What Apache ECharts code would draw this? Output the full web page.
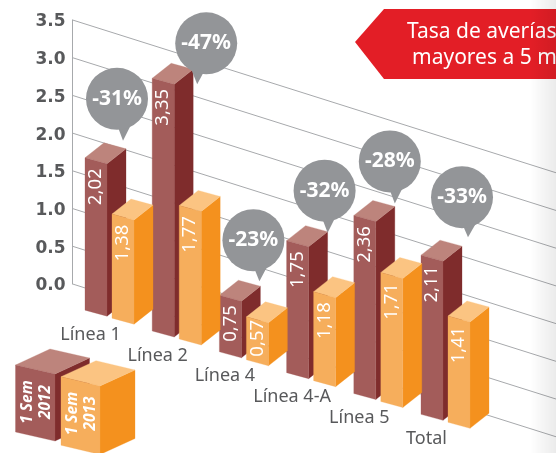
<!DOCTYPE html>
<html>
<head>
<meta charset="utf-8">
<style>
  html, body { margin: 0; padding: 0; background: #fff; }
  #main { width: 556px; height: 453px; }
</style>
<script src="https://cdn.jsdelivr.net/npm/echarts@6/dist/echarts.min.js"></script>
</head>
<body>
<div id="main"></div>
<script>
const categories = ["Línea 1", "Línea 2", "Línea 4", "Línea 4-A", "Línea 5", "Total"];
const sem2012 = [2.02, 3.35, 0.75, 1.75, 2.36, 2.11];
const sem2013 = [1.38, 1.77, 0.57, 1.18, 1.71, 1.41];
const changes = ["-31%", "-47%", "-23%", "-32%", "-28%", "-33%"];
const ticks = [0, 0.5, 1, 1.5, 2, 2.5, 3, 3.5];

// bubble centre and tail tip, relative to the top corner of the 2012 bar
const bubbleCentre = [[32, -59], [54, -35], [34, -55], [38, -50], [36, -54], [41, -58]];
const bubbleTip = [[38, -17], [45, 6], [40, -14], [41, -8], [41, -12], [47, -18]];

const GRID_LEFT = 72.6;
const GRID_SKEW = 0.316; // slope of the floor lines
const BAR_SKEW = 0.31;   // slope of the row of bars
const FLOOR_DROP = 22.3; // bars stand this far in front of the floor line
const FACE_W = 22;
const FACE_DROP = 6;
const DEPTH_X = 19;
const DEPTH_Y = -15;

const darkColors = { front: "#a35c5a", side: "#7f2c2c", top: "#bd847c" };
const orangeColors = { front: "#f6ae5c", side: "#f4911e", top: "#fbc482" };

function poly(points, fill) {
  return { type: "polygon", shape: { points: points }, style: { fill: fill, stroke: fill, lineWidth: 0.3 } };
}

// three faces of a box, x/y is the top left corner of the front face
function prism(x, y, w, h, drop, dx, dy, c) {
  return [
    poly([[x + w, y + drop], [x + w + dx, y + drop + dy], [x + w + dx, y + drop + dy + h], [x + w, y + drop + h]], c.side),
    poly([[x, y], [x + dx, y + dy], [x + w + dx, y + drop + dy], [x + w, y + drop]], c.top),
    poly([[x, y], [x + w, y + drop], [x + w, y + drop + h], [x, y + h]], c.front)
  ];
}

// top left corner of the 2012 bar front on the floor
function barBase(api, i) {
  const p = api.coord([i, 0]);
  const x = p[0] - 21.2;
  return [x, p[1] + BAR_SKEW * (x - GRID_LEFT) + FLOOR_DROP];
}

function renderBar(colors, dx, dy) {
  return function (params, api) {
    const i = api.value(0);
    const base = barBase(api, i);
    const h = api.coord([i, 0])[1] - api.coord([i, api.value(1)])[1];
    const x = base[0] + dx;
    const y = base[1] + dy - h;
    const children = prism(x, y, FACE_W, h, FACE_DROP, DEPTH_X, DEPTH_Y, colors);
    children.push({
      type: "text",
      x: x + 11,
      y: y + Math.min(29, h / 2),
      rotation: Math.PI / 2,
      style: {
        text: api.value(1).toFixed(2).replace(".", ","),
        fill: "#fff",
        font: "18.5px 'Noto Sans'",
        align: "center",
        verticalAlign: "middle"
      }
    });
    return { type: "group", children: children };
  };
}

function renderGridLine(params, api) {
  const p = api.coord([0, api.value(0)]);
  const w = api.getWidth();
  return {
    type: "line",
    shape: { x1: GRID_LEFT, y1: p[1], x2: w, y2: p[1] + GRID_SKEW * (w - GRID_LEFT) },
    style: { stroke: "#a7a9ac", lineWidth: 1 }
  };
}

function renderCategory(params, api) {
  const i = api.value(0);
  const base = barBase(api, i);
  return {
    type: "text",
    x: base[0] + 5.5,
    y: base[1] + 24.5,
    style: {
      text: categories[i],
      fill: "#58595b",
      font: "18px 'Noto Sans'",
      align: "center",
      verticalAlign: "middle"
    }
  };
}

function renderBubble(params, api) {
  const i = api.value(0);
  const base = barBase(api, i);
  const h = api.coord([i, 0])[1] - api.coord([i, api.value(1)])[1];
  const x = base[0];
  const y = base[1] - h;
  const cx = x + bubbleCentre[i][0];
  const cy = y + bubbleCentre[i][1];
  const tx = x + bubbleTip[i][0];
  const ty = y + bubbleTip[i][1];
  return {
    type: "group",
    children: [
      { type: "polygon", shape: { points: [[tx, ty], [tx - 6, cy + 26], [tx + 8, cy + 26]] }, style: { fill: "#939598" } },
      { type: "circle", shape: { cx: cx, cy: cy, r: 31 }, style: { fill: "#939598" } },
      {
        type: "text",
        x: cx,
        y: cy,
        style: {
          text: changes[i],
          fill: "#fff",
          font: "bold 21px 'Noto Sans'",
          align: "center",
          verticalAlign: "middle"
        }
      }
    ]
  };
}

function legendText(x, y, lines) {
  return {
    type: "text",
    x: x,
    y: y,
    rotation: Math.PI / 2,
    style: {
      text: lines,
      fill: "#fff",
      font: "italic bold 15.5px 'Noto Sans'",
      align: "center",
      verticalAlign: "middle",
      lineHeight: 17.5
    }
  };
}

const chart = echarts.init(document.getElementById("main"), null, { renderer: "canvas" });

chart.setOption({
  animation: false,
  grid: { left: GRID_LEFT, top: 20, width: 403.2, height: 264 },
  xAxis: { type: "category", data: categories, show: false },
  yAxis: {
    type: "value",
    min: 0,
    max: 3.5,
    interval: 0.5,
    splitLine: { show: false },
    axisTick: { show: false },
    axisLine: { show: true, lineStyle: { color: "#a7a9ac", width: 1 } },
    axisLabel: {
      margin: 7,
      verticalAlign: "top",
      lineHeight: 4,
      color: "#58595b",
      fontFamily: "DejaVu Sans",
      fontWeight: "bold",
      fontSize: 17,
      formatter: function (v) { return v.toFixed(1); }
    }
  },
  graphic: [
    {
      type: "polygon",
      shape: { points: [[355, 42], [384, 9], [556, 9], [556, 79], [384, 79]] },
      style: { fill: "#e31e26" },
      z: 1
    },
    {
      type: "text",
      x: 407,
      y: 32,
      z: 2,
      style: { text: "Tasa de averías", fill: "#fff", font: "21px 'Noto Sans'", verticalAlign: "middle" }
    },
    {
      type: "text",
      x: 412,
      y: 58,
      z: 2,
      style: { text: "mayores a 5 m", fill: "#fff", font: "21px 'Noto Sans'", verticalAlign: "middle" }
    },
    {
      type: "group",
      z: 10,
      children: prism(15.5, 365, 39.5, 67, 9, 34.5, -16, darkColors)
        .concat([legendText(36.5, 402, "1 Sem\n2012")])
    },
    {
      type: "group",
      z: 11,
      children: prism(61, 376.7, 39, 68.5, 9.3, 35, -16, orangeColors)
        .concat([legendText(81.5, 413.5, "1 Sem\n2013")])
    },
    {
      // page fold shadow on the right edge
      type: "rect",
      z: 20,
      silent: true,
      shape: { x: 530, y: 0, width: 26, height: 453 },
      style: {
        fill: {
          type: "linear", x: 0, y: 0, x2: 1, y2: 0,
          colorStops: [
            { offset: 0, color: "rgba(0,0,0,0)" },
            { offset: 1, color: "rgba(0,0,0,0.08)" }
          ]
        }
      }
    }
  ],
  series: [
    {
      name: "grid",
      type: "custom",
      renderItem: renderGridLine,
      data: ticks.map(function (t) { return [t]; }),
      encode: { y: 0 },
      silent: true,
      z: 1
    },
    {
      name: "1 Sem 2012",
      type: "custom",
      renderItem: renderBar(darkColors, 0, 0),
      data: sem2012.map(function (v, i) { return [i, v]; }),
      encode: { x: 0, y: 1 },
      z: 2
    },
    {
      name: "1 Sem 2013",
      type: "custom",
      renderItem: renderBar(orangeColors, 27, 8),
      data: sem2013.map(function (v, i) { return [i, v]; }),
      encode: { x: 0, y: 1 },
      z: 3
    },
    {
      name: "categories",
      type: "custom",
      renderItem: renderCategory,
      data: categories.map(function (c, i) { return [i, 0]; }),
      encode: { x: 0, y: 1 },
      z: 4
    },
    {
      name: "change",
      type: "custom",
      renderItem: renderBubble,
      data: sem2012.map(function (v, i) { return [i, v]; }),
      encode: { x: 0, y: 1 },
      z: 5
    }
  ]
});
</script>
</body>
</html>
